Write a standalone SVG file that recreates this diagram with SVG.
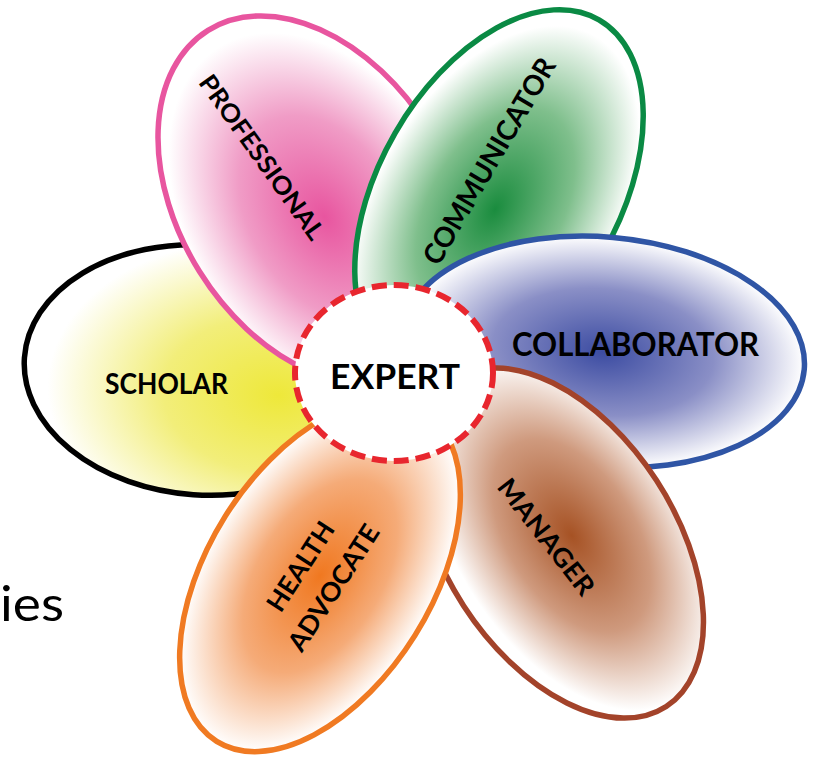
<svg xmlns="http://www.w3.org/2000/svg" width="813" height="758" viewBox="0 0 813 758">
<defs>
<radialGradient id="gY" cx="0.69" cy="0.58" r="0.62" fx="0.72" fy="0.58"><stop offset="0" stop-color="#eee83a"/><stop offset="0.5" stop-color="#f2ee7a"/><stop offset="1" stop-color="#ffffff"/></radialGradient>
<radialGradient id="gP" cx="0.55" cy="0.5" r="0.5"><stop offset="0" stop-color="#e8559f"/><stop offset="0.55" stop-color="#f09cc6"/><stop offset="1" stop-color="#ffffff"/></radialGradient>
<radialGradient id="gG" cx="0.46" cy="0.52" r="0.5"><stop offset="0" stop-color="#1a8c3e"/><stop offset="0.55" stop-color="#7fbf8c"/><stop offset="1" stop-color="#ffffff"/></radialGradient>
<radialGradient id="gB" cx="0.5" cy="0.5" r="0.5"><stop offset="0" stop-color="#3c4ca2"/><stop offset="0.55" stop-color="#8a8fc6"/><stop offset="1" stop-color="#ffffff"/></radialGradient>
<radialGradient id="gM" cx="0.5" cy="0.44" r="0.5"><stop offset="0" stop-color="#a65224"/><stop offset="0.55" stop-color="#cf9a7e"/><stop offset="1" stop-color="#ffffff"/></radialGradient>
<radialGradient id="gO" cx="0.5" cy="0.5" r="0.5"><stop offset="0" stop-color="#f07820"/><stop offset="0.55" stop-color="#f5ab78"/><stop offset="1" stop-color="#ffffff"/></radialGradient>
</defs>
<style>
.petal{stroke-width:5.5}
.lbl{font-family:Lato,"Liberation Sans",sans-serif;font-weight:700;fill:#000;text-anchor:middle}
</style>
<rect width="813" height="758" fill="#ffffff"/>
<text x="0" y="621" font-family="Lato,'Liberation Sans',sans-serif" font-size="49" fill="#000" textLength="64" lengthAdjust="spacingAndGlyphs">ies</text>
<g id="scholar">
<ellipse class="petal" transform="translate(202,370) rotate(4)" rx="178" ry="125" fill="url(#gY)" stroke="#000"/>
<text class="lbl" x="166.5" y="394" font-size="29" textLength="123" lengthAdjust="spacingAndGlyphs">SCHOLAR</text>
</g>
<g id="professional">
<ellipse class="petal" transform="translate(314,200) rotate(58)" rx="200" ry="135" fill="url(#gP)" stroke="#e8559f"/>
<text class="lbl" transform="translate(262,157) rotate(54.5)" x="0" y="9" font-size="25" textLength="196" lengthAdjust="spacingAndGlyphs">PROFESSIONAL</text>
</g>
<g id="communicator">
<ellipse class="petal" transform="translate(499,193) rotate(-60)" rx="200" ry="120" fill="url(#gG)" stroke="#0a8a44"/>
<text class="lbl" transform="translate(489,161) rotate(-59.6)" x="0" y="10" font-size="28" textLength="234" lengthAdjust="spacingAndGlyphs">COMMUNICATOR</text>
</g>
<g id="collaborator">
<ellipse class="petal" transform="translate(603,352) rotate(5)" rx="202" ry="115" fill="url(#gB)" stroke="#2f55a5"/>
<text class="lbl" x="635.5" y="356" font-size="32" textLength="247" lengthAdjust="spacingAndGlyphs">COLLABORATOR</text>
</g>
<g id="manager">
<ellipse class="petal" transform="translate(560,543) rotate(57)" rx="195" ry="115" fill="url(#gM)" stroke="#a3432a"/>
<text class="lbl" transform="translate(546.5,536.5) rotate(52)" x="0" y="9.5" font-size="26" textLength="140" lengthAdjust="spacingAndGlyphs">MANAGER</text>
</g>
<g id="health-advocate">
<ellipse class="petal" transform="translate(320,576) rotate(-58)" rx="195" ry="112" fill="url(#gO)" stroke="#f07a22"/>
<text class="lbl" transform="translate(317,577) rotate(-57)" font-size="26"><tspan x="0" y="-10.5" textLength="101" lengthAdjust="spacingAndGlyphs">HEALTH</tspan><tspan x="0" y="29" textLength="145" lengthAdjust="spacingAndGlyphs">ADVOCATE</tspan></text>
</g>
<g id="expert">
<ellipse cx="394" cy="373" rx="99" ry="88" fill="#ffffff" stroke="#e8262e" stroke-width="6" stroke-dasharray="15 7"/>
<text class="lbl" x="395" y="389" font-size="35" textLength="130" lengthAdjust="spacingAndGlyphs">EXPERT</text>
</g>
<g id="connectors"/>
</svg>
